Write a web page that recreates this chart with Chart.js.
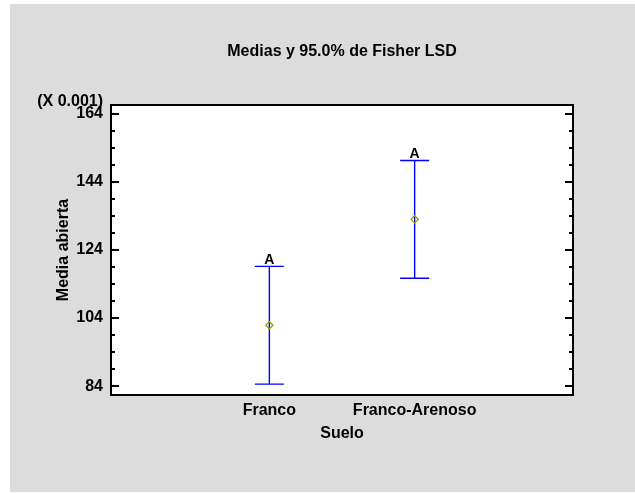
<!DOCTYPE html>
<html>
<head>
<meta charset="utf-8">
<title>Medias y 95.0% de Fisher LSD</title>
<script src="https://cdn.jsdelivr.net/npm/chart.js@4.4.0/dist/chart.umd.min.js"></script>
<style>
  body { margin: 0; background: #fff; }
  canvas { display: block; }
</style>
</head>
<body>
<canvas id="lsdChart" width="635" height="493"></canvas>
<script>
// Values (units of X 0.001)
const categories = ["Franco", "Franco-Arenoso"];
const means = [101.9, 133.0];
const lowerLimits = [84.6, 115.7];
const upperLimits = [119.2, 150.3];
const groupLetters = ["A", "A"];
const yTicks = [84, 104, 124, 144, 164];
const yMinorStep = 5;

const FONT = "'Liberation Sans', Arial, sans-serif";

// Background, error bars, frame with inward ticks and the texts Chart.js has no slot for
const lsdDecor = {
    id: 'lsdDecor',
    beforeDraw(chart) {
        const { ctx, chartArea: a } = chart;
        ctx.save();
        ctx.fillStyle = '#ffffff';
        ctx.fillRect(0, 0, chart.width, chart.height);
        ctx.fillStyle = '#dcdcdc';
        ctx.fillRect(10, 4, chart.width - 10, chart.height - 5);
        ctx.fillStyle = '#ffffff';
        ctx.fillRect(a.left, a.top, a.right - a.left, a.bottom - a.top);
        ctx.restore();
    },
    beforeDatasetsDraw(chart) {
        const { ctx, scales: { x, y } } = chart;
        ctx.save();
        ctx.strokeStyle = '#0000ff';
        ctx.lineWidth = 1.4;
        ctx.fillStyle = '#000';
        ctx.font = 'bold 14px ' + FONT;
        ctx.textAlign = 'center';
        ctx.textBaseline = 'alphabetic';
        categories.forEach((c, i) => {
            const px = x.getPixelForValue(i + 1);
            const top = y.getPixelForValue(upperLimits[i]);
            const bot = y.getPixelForValue(lowerLimits[i]);
            ctx.beginPath();
            ctx.moveTo(px, top);
            ctx.lineTo(px, bot);
            ctx.moveTo(px - 14.5, top);
            ctx.lineTo(px + 14.5, top);
            ctx.moveTo(px - 14.5, bot);
            ctx.lineTo(px + 14.5, bot);
            ctx.stroke();
            ctx.fillText(groupLetters[i], px, top - 2.5);
        });
        ctx.restore();
    },
    afterDraw(chart) {
        const { ctx, chartArea: a, scales: { y } } = chart;
        ctx.save();
        // frame
        ctx.strokeStyle = '#000';
        ctx.lineWidth = 2;
        ctx.strokeRect(a.left, a.top, a.right - a.left, a.bottom - a.top);
        // inward ticks on both sides
        ctx.beginPath();
        for (let v = yTicks[0]; v <= yTicks[yTicks.length - 1]; v += yMinorStep) {
            const py = Math.round(y.getPixelForValue(v));
            const len = yTicks.includes(v) ? 8 : 4;
            ctx.moveTo(a.left, py);
            ctx.lineTo(a.left + len, py);
            ctx.moveTo(a.right, py);
            ctx.lineTo(a.right - len, py);
        }
        ctx.stroke();
        // title and scale multiplier
        ctx.fillStyle = '#000';
        ctx.font = 'bold 16px ' + FONT;
        ctx.textBaseline = 'alphabetic';
        ctx.textAlign = 'center';
        ctx.fillText('Medias y 95.0% de Fisher LSD', (a.left + a.right) / 2, 55.5);
        ctx.textAlign = 'right';
        ctx.fillText('(X 0.001)', a.left - 8, 106);
        ctx.restore();
    }
};

new Chart(document.getElementById('lsdChart'), {
    type: 'scatter',
    data: {
        datasets: [{
            label: 'Media',
            data: means.map((m, i) => ({ x: i + 1, y: m })),
            pointStyle: 'rectRot',
            pointRadius: 3.6,
            pointBorderWidth: 1.3,
            borderColor: '#9c9a00',
            backgroundColor: 'rgba(0,0,0,0)',
            pointBackgroundColor: 'rgba(0,0,0,0)'
        }]
    },
    options: {
        responsive: false,
        animation: false,
        layout: {
            padding: { left: 54, right: 62, top: 105, bottom: 50 }
        },
        plugins: {
            legend: { display: false },
            tooltip: { enabled: false }
        },
        scales: {
            x: {
                type: 'linear',
                min: -0.09,
                max: 3.09,
                grid: { display: false, drawTicks: false },
                border: { display: false },
                afterBuildTicks: scale => {
                    scale.ticks = categories.map((c, i) => ({ value: i + 1 }));
                },
                afterFit: scale => { scale.height = 48; },
                ticks: {
                    autoSkip: false,
                    maxRotation: 0,
                    padding: 6,
                    color: '#000',
                    font: { family: FONT, size: 16, weight: 'bold' },
                    callback: v => categories[v - 1]
                },
                title: {
                    display: true,
                    text: 'Suelo',
                    color: '#000',
                    padding: 0,
                    font: { family: FONT, size: 16, weight: 'bold' }
                }
            },
            y: {
                min: 81.4,
                max: 166.6,
                grid: { display: false, drawTicks: false },
                border: { display: false },
                afterBuildTicks: scale => {
                    scale.ticks = yTicks.map(v => ({ value: v }));
                },
                afterFit: scale => { scale.width = 57; },
                ticks: {
                    padding: 8,
                    color: '#000',
                    font: { family: FONT, size: 16, weight: 'bold' }
                },
                title: {
                    display: true,
                    text: 'Media abierta',
                    color: '#000',
                    padding: 0,
                    font: { family: FONT, size: 16, weight: 'bold' }
                }
            }
        }
    },
    plugins: [lsdDecor]
});
</script>
</body>
</html>
